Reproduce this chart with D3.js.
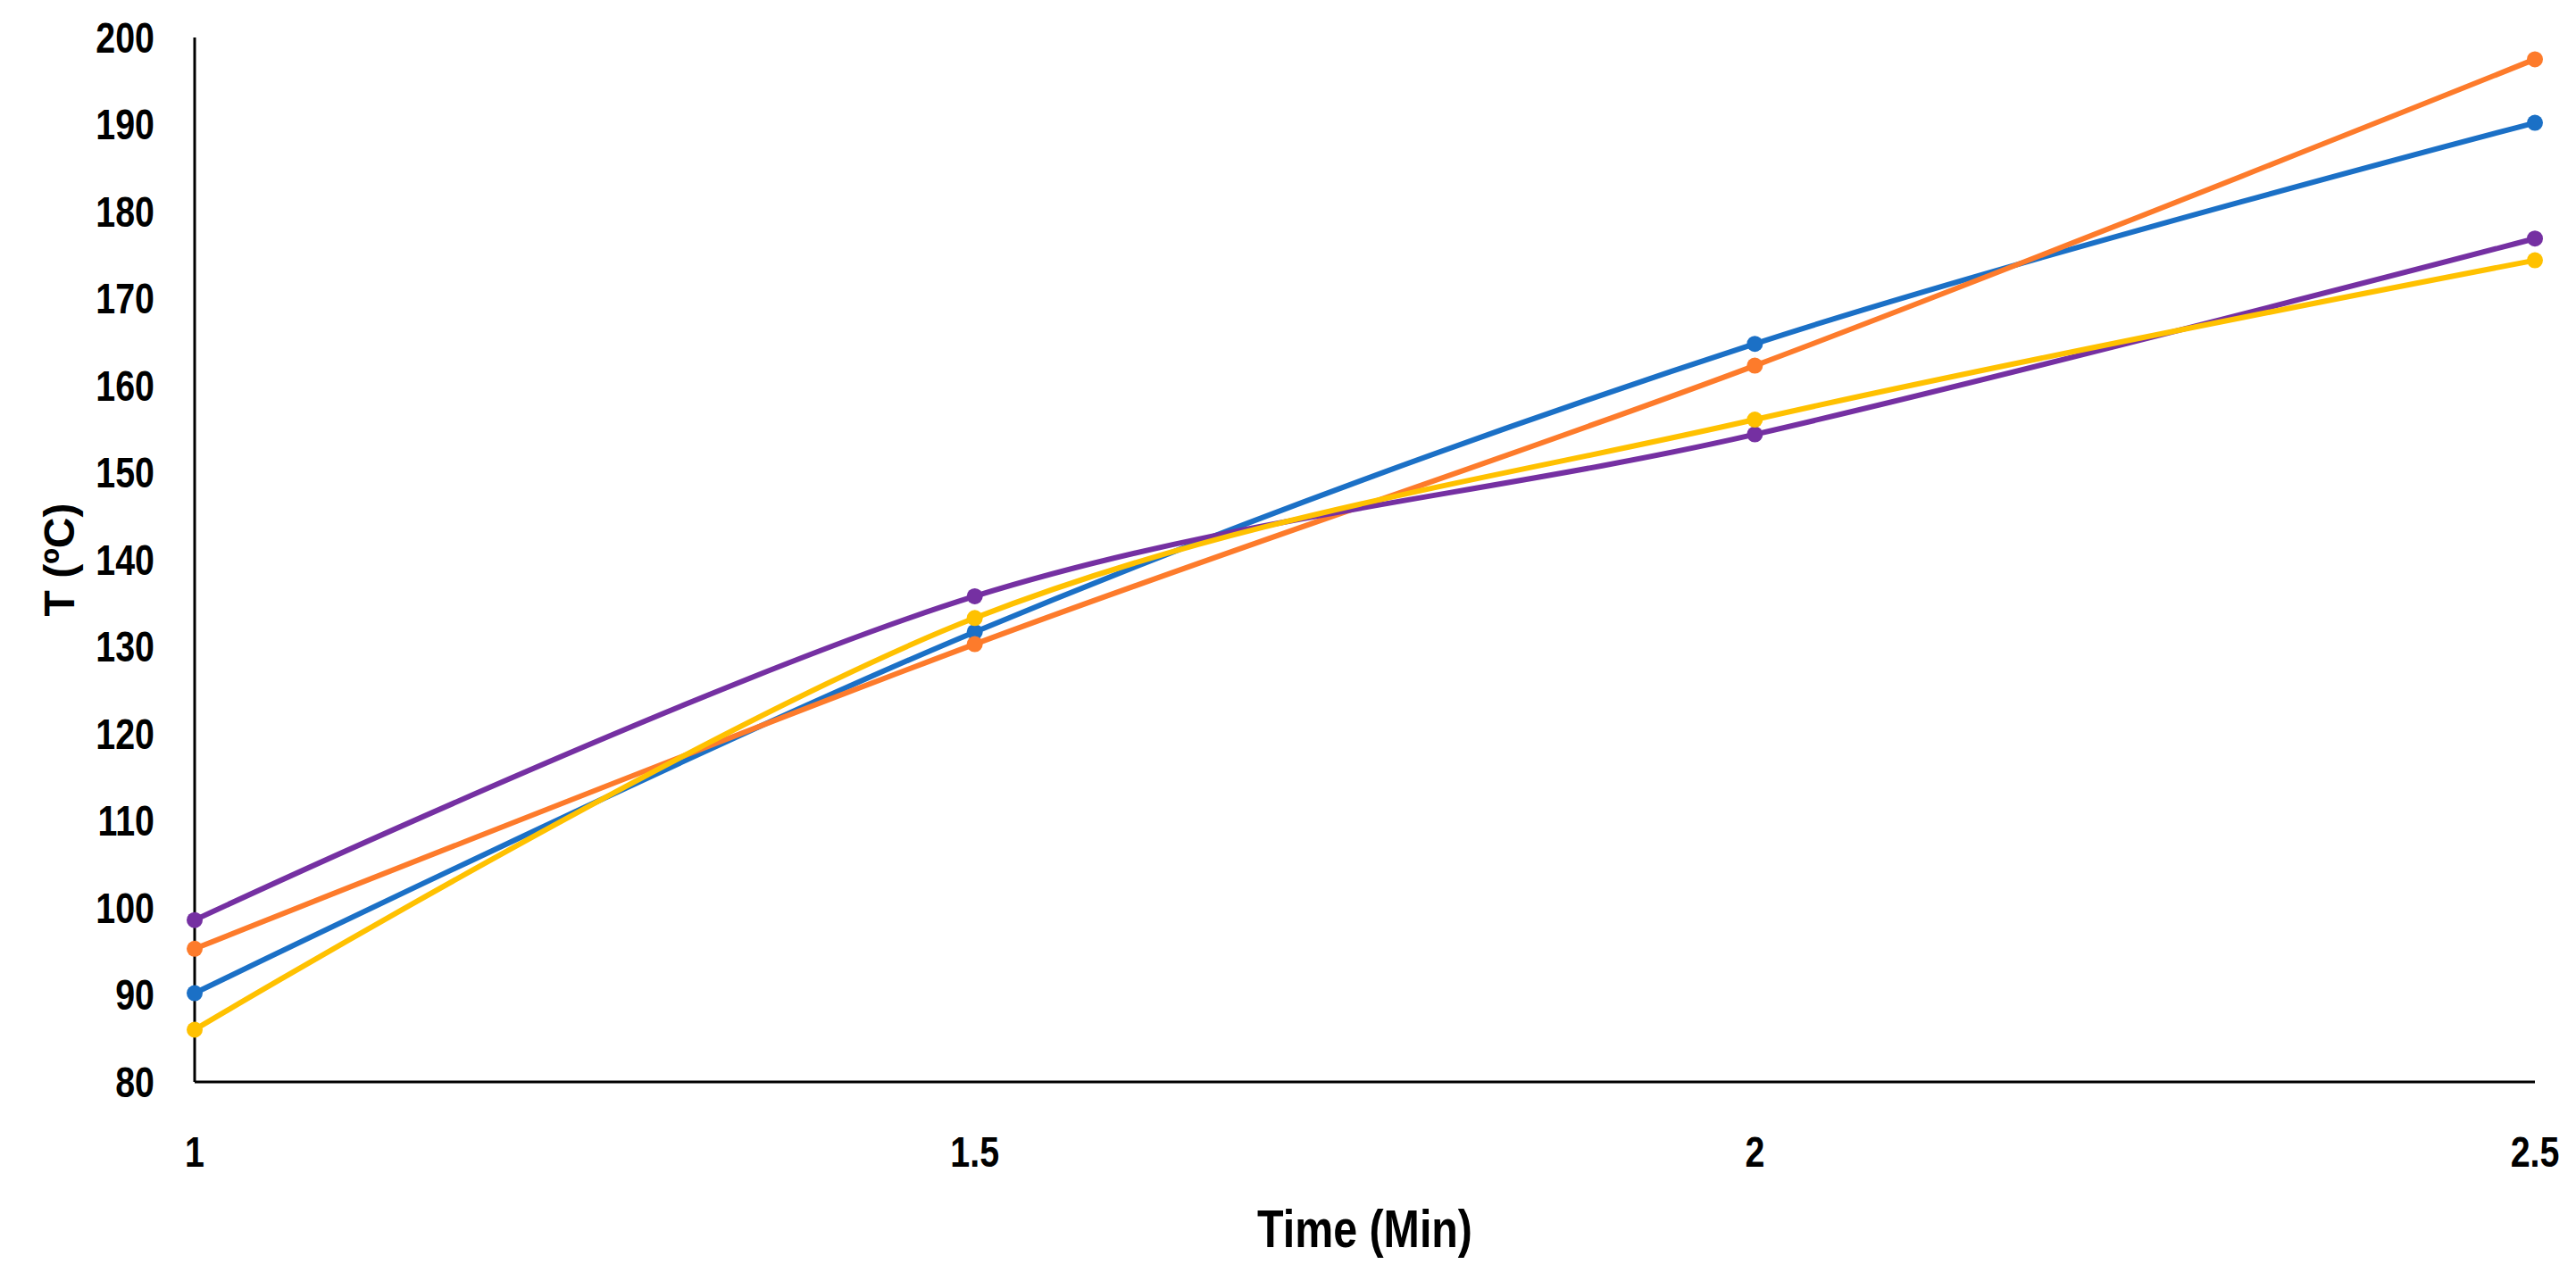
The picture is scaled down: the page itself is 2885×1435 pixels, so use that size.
<!DOCTYPE html>
<html>
<head>
<meta charset="utf-8">
<script src="https://cdn.jsdelivr.net/npm/d3@7"></script>
<style>
  html, body { margin: 0; padding: 0; background: #fff; }
  svg { display: block; }
  .tick-label { font-family: "Liberation Sans", Arial, sans-serif; font-weight: bold; font-size: 48px; fill: #000; }
  .axis-title { font-family: "Liberation Sans", Arial, sans-serif; font-weight: bold; font-size: 59px; fill: #000; }
</style>
</head>
<body>
<script>
// ---- data ----
const times = [1, 1.5, 2, 2.5];
const blueSeries   = [90.2, 131.7, 164.8, 190.2];
const orangeSeries = [95.3, 130.3, 162.3, 197.5];
const yellowSeries = [86.0, 133.3, 156.1, 174.4];
const purpleSeries = [98.6, 135.8, 154.4, 176.9];
const xTickValues = [1, 1.5, 2, 2.5];
const yTickValues = [80, 90, 100, 110, 120, 130, 140, 150, 160, 170, 180, 190, 200];
const xTitle = "Time (Min)";
const yTitle = "T (ºC)";

const seriesList = [
  { name: "blue",   values: blueSeries,   color: "#1b70c6" },
  { name: "orange", values: orangeSeries, color: "#fd7b2b" },
  { name: "purple", values: purpleSeries, color: "#7530a2" },
  { name: "yellow", values: yellowSeries, color: "#ffc100" }
];

const W = 2885, H = 1435;
const mLeft = 218, mRight = 2839, mTop = 42, mBottom = 1212;
const narrow = 0.82;

const svg = d3.select("body").append("svg").attr("width", W).attr("height", H);

const x = d3.scaleLinear().domain([1, 2.5]).range([mLeft, mRight]);
const y = d3.scaleLinear().domain([80, 200]).range([mBottom, mTop]);

// axes lines
svg.append("line").attr("x1", mLeft).attr("x2", mLeft).attr("y1", mTop).attr("y2", mBottom)
  .attr("stroke", "#000").attr("stroke-width", 3);
svg.append("line").attr("x1", mLeft).attr("x2", mRight).attr("y1", mBottom).attr("y2", mBottom)
  .attr("stroke", "#000").attr("stroke-width", 3);

// y tick labels
svg.append("g").selectAll("text").data(yTickValues).join("text")
  .attr("class", "tick-label")
  .attr("transform", d => `translate(${mLeft - 45},${y(d)}) scale(${narrow},1)`)
  .attr("dy", "0.35em")
  .attr("text-anchor", "end")
  .text(d => d);

// x tick labels
svg.append("g").selectAll("text").data(xTickValues).join("text")
  .attr("class", "tick-label")
  .attr("transform", d => `translate(${x(d)},1307) scale(${narrow},1)`)
  .attr("text-anchor", "middle")
  .text(d => d);

// axis titles
svg.append("text").attr("class", "axis-title")
  .attr("transform", `translate(${(mLeft + mRight) / 2},1397) scale(${narrow},1)`)
  .attr("text-anchor", "middle").text(xTitle);

svg.append("text").attr("class", "axis-title")
  .attr("transform", `translate(83, 627) rotate(-90)`)
  .attr("text-anchor", "middle")
  .style("font-size", "48px")
  .text(yTitle);

// lines
const line = d3.line()
  .x((d, i) => x(times[i]))
  .y(d => y(d))
  .curve(d3.curveCardinal.tension(0));

const g = svg.append("g");
seriesList.forEach(s => {
  g.append("path").datum(s.values)
    .attr("d", line)
    .attr("fill", "none")
    .attr("stroke", s.color)
    .attr("stroke-width", 6)
    .attr("stroke-linejoin", "round");
  g.selectAll(null).data(s.values).join("circle")
    .attr("cx", (d, i) => x(times[i]))
    .attr("cy", d => y(d))
    .attr("r", 9)
    .attr("fill", s.color);
});
</script>
</body>
</html>
